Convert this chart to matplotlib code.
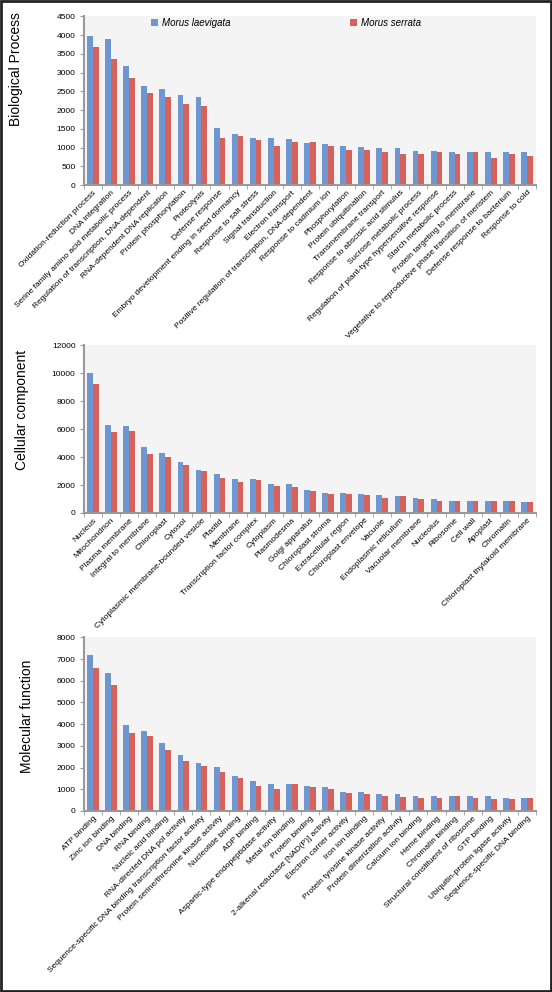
import numpy as np
import matplotlib
matplotlib.use("Agg")
import matplotlib.pyplot as plt
from matplotlib.patches import Rectangle

plt.rcParams['font.family'] = ['Liberation Sans', 'DejaVu Sans']

blue = '#6e97d2'
red = '#d6635b'

# Biological process
bp_labels = ["Oxidation-reduction process", "DNA integration",
             "Serine family amino acid metabolic process",
             "Regulation of transcription, DNA-dependent",
             "RNA-dependent DNA replication", "Protein phosphorylation",
             "Proteolysis", "Defense response",
             "Embryo development ending in seed dormancy",
             "Response to salt stress", "Signal transduction",
             "Electron transport",
             "Positive regulation of transcription, DNA-dependent",
             "Response to cadmium ion", "Phosphorylation",
             "Protein ubiquitination", "Transmembrane transport",
             "Response to abscisic acid stimulus", "Sucrose metabolic process",
             "Regulation of plant-type hypersensitive response",
             "Starch metabolic process", "Protein targeting to membrane",
             "Vegetative to reproductive phase transition of meristem",
             "Defense response to bacterium", "Response to cold"]
bp_laev = [3970, 3905, 3180, 2655, 2575, 2400, 2355, 1510, 1360, 1255, 1255,
           1215, 1110, 1085, 1040, 1005, 975, 975, 895, 895, 870, 870, 870, 870, 870]
bp_serr = [3675, 3355, 2865, 2465, 2360, 2150, 2105, 1255, 1305, 1190, 1040,
           1145, 1145, 1045, 930, 930, 870, 825, 825, 870, 825, 870, 720, 825, 765]

# Cellular component
cc_labels = ["Nucleus", "Mitochondrion", "Plasma membrane", "Integral to membrane",
             "Chloroplast", "Cytosol", "Cytoplasmic membrane-bounded vesicle",
             "Plastid", "Membrane", "Transcription factor complex", "Cytoplasm",
             "Plasmodesma", "Golgi apparatus", "Chloroplast stroma",
             "Extracellular region", "Chloroplast envelope", "Vacuole",
             "Endoplasmic reticulum", "Vacuolar membrane", "Nucleolus",
             "Ribosome", "Cell wall", "Apoplast", "Chromatin",
             "Chloroplast thylakoid membrane"]
cc_laev = [10000, 6300, 6220, 4700, 4320, 3660, 3080, 2800, 2420, 2420, 2100,
           2040, 1620, 1450, 1450, 1360, 1290, 1190, 1070, 980, 880, 880, 880, 880, 760]
cc_serr = [9200, 5780, 5850, 4230, 4040, 3450, 2970, 2520, 2230, 2330, 1920,
           1850, 1550, 1360, 1360, 1290, 1070, 1190, 980, 880, 880, 880, 880, 880, 760]

# Molecular function
mf_labels = ["ATP binding", "Zinc ion binding", "DNA binding", "RNA binding",
             "Nucleic acid binding", "RNA-directed DNA pol activity",
             "Sequence-specific DNA binding transcription factor activity",
             "Protein serine/threonine kinase activity", "Nucleotide binding",
             "ADP binding", "Aspartic-type endopeptidase activity",
             "Metal ion binding", "Protein binding",
             "2-alkenal reductase [NAD(P)] activity", "Electron carrier activity",
             "Iron ion binding", "Protein tyrosine kinase activity",
             "Protein dimerization activity", "Calcium ion binding",
             "Heme binding", "Chromatin binding",
             "Structural constituent of ribosome", "GTP binding",
             "Ubiquitin-protein ligase activity", "Sequence-specific DNA binding"]
mf_laev = [7210, 6380, 3950, 3680, 3130, 2580, 2190, 2040, 1590, 1370, 1220,
           1220, 1140, 1090, 870, 870, 760, 760, 710, 710, 710, 670, 670, 610, 610]
mf_serr = [6600, 5810, 3580, 3460, 2810, 2310, 2080, 1810, 1530, 1140, 1030,
           1260, 1090, 990, 820, 760, 710, 650, 610, 610, 710, 610, 550, 550, 610]

fig = plt.figure(figsize=(5.52, 9.92), dpi=100)

panels = [
    (bp_labels, bp_laev, bp_serr, 4500, 500, [0.152, 0.8135, 0.819, 0.170]),
    (cc_labels, cc_laev, cc_serr, 12000, 2000, [0.152, 0.4829, 0.819, 0.169]),
    (mf_labels, mf_laev, mf_serr, 8000, 1000, [0.152, 0.1825, 0.819, 0.175]),
]

axes = []
for labels, laev, serr, ymax, step, rect in panels:
    ax = fig.add_axes(rect)
    ax.set_facecolor('#f4f4f4')
    x = np.arange(len(labels))
    w = 0.32
    b1 = ax.bar(x - w / 2, laev, w, color=blue, linewidth=0)
    b2 = ax.bar(x + w / 2, serr, w, color=red, linewidth=0)
    ax.set_xlim(-0.5, len(labels) - 0.5)
    ax.set_ylim(0, ymax)
    ax.set_yticks(np.arange(0, ymax + 1, step))
    ax.set_xticks(x)
    ax.set_xticklabels(labels, rotation=45, ha='right', rotation_mode='anchor', fontsize=6)
    ax.set_xticks(np.arange(-0.5, len(labels)), minor=True)
    ax.tick_params(axis='x', which='major', length=0, pad=3)
    ax.tick_params(axis='x', which='minor', length=3, color='#999999', direction='out')
    ax.tick_params(axis='y', labelsize=6, length=3, color='#999999', direction='out', pad=3)
    for s in ['top', 'right']:
        ax.spines[s].set_visible(False)
    for s in ['left', 'bottom']:
        ax.spines[s].set_color('#999999')
        ax.spines[s].set_linewidth(1.5)
    axes.append((ax, b1, b2))

ax0, b1, b2 = axes[0]
leg1 = ax0.legend([b1], ["Morus laevigata"], loc='center left',
                  bbox_to_anchor=(0.138, 0.96), frameon=False,
                  prop={'style': 'italic', 'size': 7}, handlelength=0.7,
                  handleheight=0.7, handletextpad=0.4, borderpad=0)
ax0.add_artist(leg1)
ax0.legend([b2], ["Morus serrata"], loc='center left',
           bbox_to_anchor=(0.578, 0.96), frameon=False,
           prop={'style': 'italic', 'size': 7}, handlelength=0.7,
           handleheight=0.7, handletextpad=0.4, borderpad=0)

fig.text(16 / 552, 1 - 69 / 992, "Biological Process", rotation=90,
         ha='center', va='center', fontsize=10)
fig.text(22 / 552, 1 - 410 / 992, "Cellular component", rotation=90,
         ha='center', va='center', fontsize=10)
fig.text(27 / 552, 1 - 716 / 992, "Molecular function", rotation=90,
         ha='center', va='center', fontsize=10)

fig.patches.append(Rectangle((0.002, 0.001), 0.996, 0.998, transform=fig.transFigure,
                             fill=False, edgecolor='#222222', linewidth=2))

fig.savefig("out.png", dpi=100)
